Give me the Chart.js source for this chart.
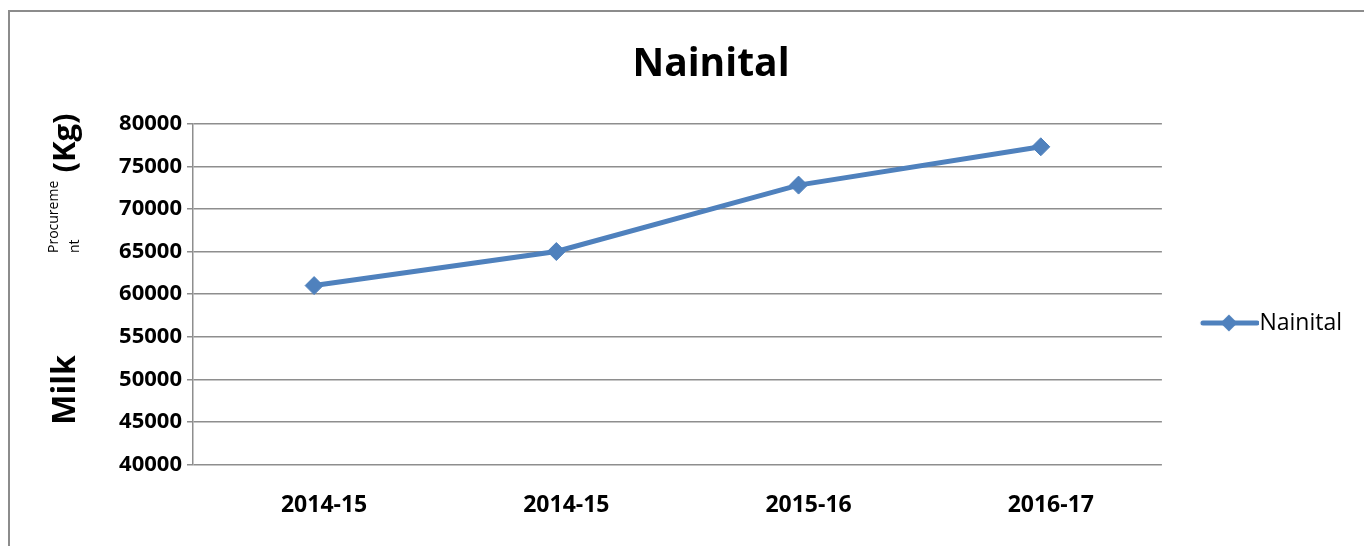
<!DOCTYPE html>
<html>
<head>
<meta charset="utf-8">
<script src="https://cdn.jsdelivr.net/npm/chart.js@4.4.1/dist/chart.umd.min.js"></script>
<style>
  html, body { margin:0; padding:0; background:#fff; }
  #frame { position:absolute; left:8px; top:10px; width:1356px; height:536px;
           border-top:2px solid #8c8c8c; border-left:2px solid #8c8c8c; box-sizing:border-box; }
  #wrap { position:absolute; left:0; top:0; width:1364px; height:546px; }
</style>
</head>
<body>
<div id="frame"></div>
<div id="wrap"><canvas id="milkChart" width="1364" height="546"></canvas></div>
<script>
const years = ["2014-15", "2014-15", "2015-16", "2016-17"];
const milkKg = [61000, 65000, 72800, 77300];
const seriesName = "Nainital";
const yMin = 40000, yMax = 80000, yStep = 5000;

const BLUE = "#4f81bd";
const FONT = "'Open Sans', 'Liberation Sans', sans-serif";

// legend marker: line with diamond, like the excel one
// (left part of the image is left empty so the line sits right next to the text)
function legendMarker(){
  const c = document.createElement("canvas");
  c.width = 98; c.height = 22;
  const g = c.getContext("2d");
  g.strokeStyle = BLUE; g.lineWidth = 5; g.lineCap = "round";
  g.beginPath(); g.moveTo(42, 11); g.lineTo(96, 11); g.stroke();
  g.fillStyle = BLUE;
  g.beginPath(); g.moveTo(68, 2.5); g.lineTo(76.5, 11); g.lineTo(68, 19.5); g.lineTo(59.5, 11); g.closePath(); g.fill();
  return c;
}

// y axis title, split up the same odd way as in the source
const yTitle = {
  id: "yTitle",
  afterDraw(chart){
    const ctx = chart.ctx;
    ctx.save();
    ctx.fillStyle = "#000";
    ctx.textBaseline = "middle";
    const put = (txt, x, y, font, align) => {
      ctx.save();
      ctx.translate(x, y);
      ctx.rotate(-Math.PI/2);
      ctx.font = font;
      ctx.textAlign = align || "center";
      ctx.fillText(txt, 0, 0);
      ctx.restore();
    };
    put("Milk", 66, 390, "bold 32px " + FONT);
    put("(Kg)", 66, 143, "bold 31px " + FONT);
    put("Procureme", 54, 253, "14px " + FONT, "left");
    put("nt", 75, 253, "14px " + FONT, "left");
    ctx.restore();
  }
};

new Chart(document.getElementById("milkChart"), {
  type: "line",
  data: {
    labels: years,
    datasets: [{
      label: seriesName,
      data: milkKg,
      borderColor: BLUE,
      backgroundColor: BLUE,
      borderWidth: 5,
      pointStyle: "rectRot",
      pointRadius: 9,
      pointBorderWidth: 1,
      pointBackgroundColor: BLUE,
      pointBorderColor: BLUE,
      tension: 0
    }]
  },
  options: {
    responsive: false,
    animation: false,
    devicePixelRatio: 1,
    layout: { padding: { left: 70, right: 12, top: 0, bottom: 0 } },
    plugins: {
      title: {
        display: true,
        text: seriesName,
        color: "#000",
        font: { family: FONT, size: 39, weight: "bold" },
        padding: { top: 41, bottom: 36 }
      },
      legend: {
        position: "right",
        title: { display: true, text: " ", font: { size: 10 }, padding: { top: 88, bottom: 0 } },
        labels: {
          usePointStyle: true,
          pointStyle: legendMarker(),
          pointStyleWidth: 76,
          color: "#000",
          font: { family: FONT, size: 23 }
        }
      },
      tooltip: { enabled: false }
    },
    scales: {
      x: {
        offset: true,
        grid: { display: false, drawTicks: false },
        border: { display: false },
        ticks: {
          color: "#000",
          padding: 27,
          labelOffset: 10,
          font: { family: FONT, size: 23, weight: "bold" }
        }
      },
      y: {
        min: yMin,
        max: yMax,
        afterFit: s => { s.width = 123; },
        grid: { color: "#8e8e8e", lineWidth: 1.5, tickLength: 6 },
        border: { color: "#8e8e8e", width: 1.5 },
        ticks: {
          stepSize: yStep,
          color: "#000",
          padding: 5,
          font: { family: FONT, size: 22, weight: "bold" },
          callback: v => String(v)
        }
      }
    }
  },
  plugins: [yTitle]
});
</script>
</body>
</html>
